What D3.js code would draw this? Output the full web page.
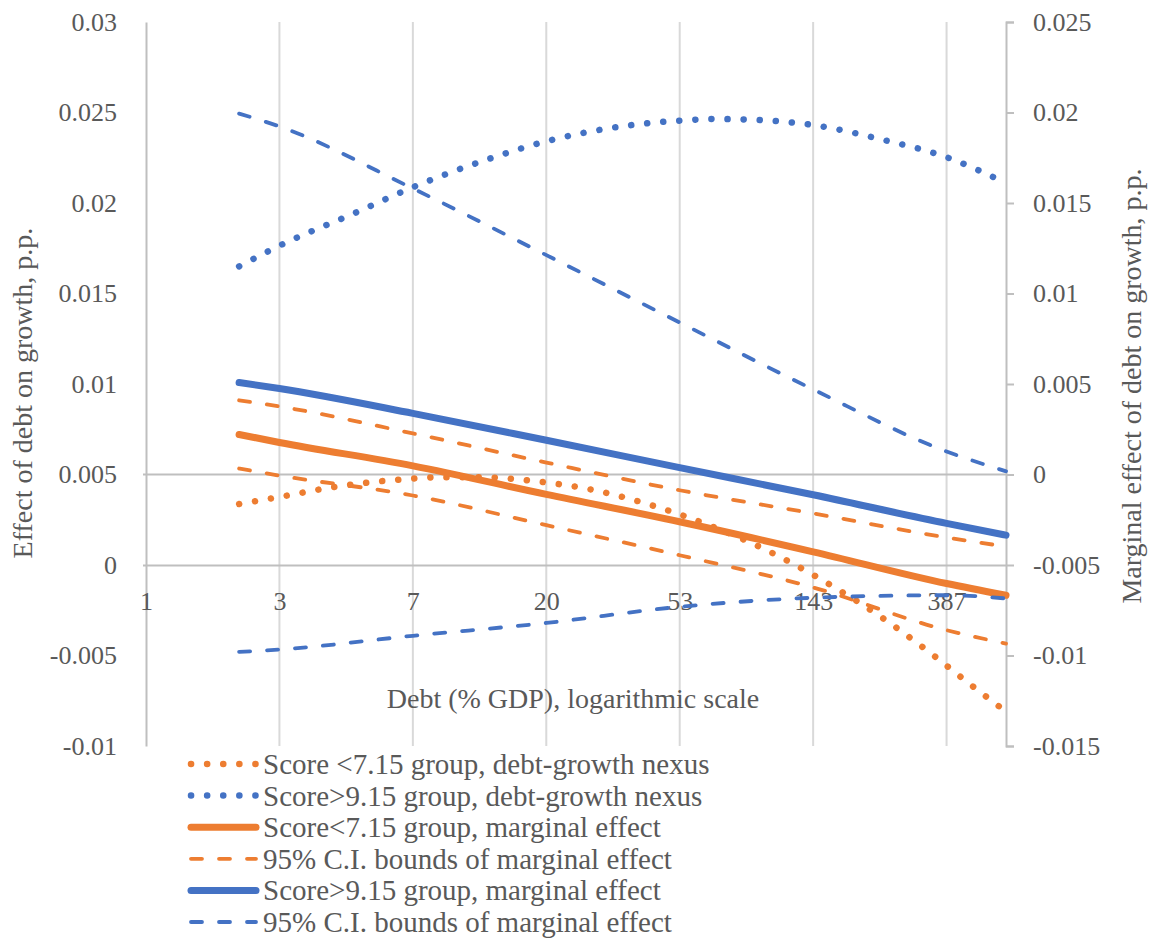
<!DOCTYPE html>
<html>
<head>
<meta charset="utf-8">
<script src="https://cdn.jsdelivr.net/npm/d3@7"></script>
<style>
  body { margin: 0; background: #fff; }
  text { font-family: "Liberation Serif", serif; fill: #595959; }
</style>
</head>
<body>
<div id="chart"></div>
<script>
// log axis ticks, base 2.7
const xTicks = [1, 2.7, 7.29, 19.683, 53.14, 143.49, 387.42];
const xTickLabels = ["1", "3", "7", "20", "53", "143", "387"];
const leftTicks = [-0.01, -0.005, 0, 0.005, 0.01, 0.015, 0.02, 0.025, 0.03];
const rightTicks = [-0.015, -0.01, -0.005, 0, 0.005, 0.01, 0.015, 0.02, 0.025];

// debt-growth nexus curves (left axis)
const debtLowNexus = [2, 2.7, 4, 6.5, 9.1, 11.7, 18.8, 26.9, 42.6, 66.7, 104, 142, 173, 236, 347, 460, 603];
const lowNexus = [0.00337, 0.00376, 0.00429, 0.00471, 0.00485, 0.00485, 0.0046, 0.0042, 0.00333, 0.00217, 0.00073, -0.0005, -0.00136, -0.00283, -0.00492, -0.00657, -0.0081];
const debtHighNexus = [2, 2.7, 4.74, 7.29, 12.8, 19.7, 35.8, 53.1, 69.5, 94.3, 143, 240, 387, 603];
const highNexus = [0.0165, 0.01764, 0.01945, 0.02087, 0.02243, 0.02341, 0.02427, 0.02455, 0.02464, 0.02459, 0.02431, 0.0235, 0.02253, 0.0211];

// marginal effects and CI bounds (right axis)
const debtME = [2, 2.7, 7.29, 19.7, 53.1, 143.5, 387.4, 603];
const lowME = [0.00221, 0.00177, 0.00048, -0.0011, -0.00261, -0.00427, -0.00602, -0.00667];
const lowUpper = [0.0041, 0.00376, 0.00227, 0.00066, -0.00087, -0.00215, -0.00348, -0.00398];
const lowLower = [0.00033, -0.00006, -0.00116, -0.0028, -0.00446, -0.00624, -0.0086, -0.00934];
const highME = [0.00508, 0.00475, 0.00338, 0.00189, 0.00038, -0.00112, -0.0027, -0.00335];
const highUpper = [0.01994, 0.01923, 0.0158, 0.01212, 0.0084, 0.0047, 0.00127, 0.00018];
const highLower = [-0.0098, -0.00967, -0.00891, -0.0082, -0.00731, -0.00681, -0.00667, -0.00685];

const legendLabels = [
  "Score <7.15 group, debt-growth nexus",
  "Score>9.15 group, debt-growth nexus",
  "Score<7.15 group, marginal effect",
  "95% C.I. bounds of marginal effect",
  "Score>9.15 group, marginal effect",
  "95% C.I. bounds of marginal effect"
];

const ORANGE = "#ED7D31", BLUE = "#4472C4";
const styles = {
  dot: {w: 6.5, dash: "0.1 16"},
  solid: {w: 7, dash: null},
  dash: {w: 3.8, dash: "11 17"}
};

var width = 1150, height = 938;
var svg = d3.select("#chart").append("svg")
  .attr("width", width).attr("height", height);

var x = d3.scaleLog().base(2.7).domain([1, 603]).range([146, 1006]);
var yL = d3.scaleLinear().domain([-0.01, 0.03]).range([746, 22]);
var yR = d3.scaleLinear().domain([-0.015, 0.025]).range([746, 22]);

// vertical gridlines
svg.append("g").selectAll("line")
  .data(xTicks.slice(1))
  .enter().append("line")
  .attr("x1", d => x(d)).attr("x2", d => x(d))
  .attr("y1", 22).attr("y2", 746)
  .attr("stroke", "#d9d9d9").attr("stroke-width", 2);

// left axis
var gL = svg.append("g").attr("transform", "translate(146,0)")
  .call(d3.axisLeft(yL).tickValues(leftTicks).tickSize(0).tickPadding(29).tickFormat(d => String(d)));
gL.select(".domain").attr("stroke", "#bfbfbf").attr("stroke-width", 2);

// right axis
var gR = svg.append("g").attr("transform", "translate(1006,0)")
  .call(d3.axisRight(yR).tickValues(rightTicks).tickSize(8).tickPadding(19).tickFormat(d => String(d)));
gR.select(".domain").attr("stroke", "#bfbfbf").attr("stroke-width", 2);
gR.selectAll(".tick line").attr("stroke", "#bfbfbf").attr("stroke-width", 2);

svg.selectAll(".tick text").attr("font-size", 26).attr("fill", "#595959")
  .attr("font-family", "Liberation Serif, serif");

// horizontal axis lines: primary zero and secondary zero
svg.append("line").attr("x1", 143).attr("x2", 1006)
  .attr("y1", yR(0)).attr("y2", yR(0))
  .attr("stroke", "#bfbfbf").attr("stroke-width", 2);

var gX = svg.append("g").attr("transform", "translate(0," + yL(0) + ")")
  .call(d3.axisBottom(x).tickValues(xTicks).tickSize(0).tickPadding(27)
    .tickFormat((d, i) => xTickLabels[i]));
gX.select(".domain").attr("stroke", "#bfbfbf").attr("stroke-width", 2)
  .attr("d", "M143,0.5H1006");
gX.selectAll(".tick text").attr("font-size", 26).attr("fill", "#595959")
  .attr("font-family", "Liberation Serif, serif");

// axis titles
svg.append("text")
  .attr("transform", "translate(22,393) rotate(-90)")
  .attr("text-anchor", "middle").attr("dominant-baseline", "central")
  .attr("font-size", 28).text("Effect of debt on growth, p.p.");
svg.append("text")
  .attr("transform", "translate(1131,386) rotate(-90)")
  .attr("text-anchor", "middle").attr("dominant-baseline", "central")
  .attr("font-size", 28).text("Marginal effect of debt on growth, p.p.");
svg.append("text")
  .attr("x", 573).attr("y", 698)
  .attr("text-anchor", "middle").attr("dominant-baseline", "central")
  .attr("font-size", 28).text("Debt (% GDP), logarithmic scale");

// series
var series = [
  {xs: debtLowNexus, ys: lowNexus, y: yL, color: ORANGE, st: "dot"},
  {xs: debtHighNexus, ys: highNexus, y: yL, color: BLUE, st: "dot"},
  {xs: debtME, ys: lowME, y: yR, color: ORANGE, st: "solid"},
  {xs: debtME, ys: lowUpper, y: yR, color: ORANGE, st: "dash"},
  {xs: debtME, ys: lowLower, y: yR, color: ORANGE, st: "dash"},
  {xs: debtME, ys: highME, y: yR, color: BLUE, st: "solid"},
  {xs: debtME, ys: highUpper, y: yR, color: BLUE, st: "dash"},
  {xs: debtME, ys: highLower, y: yR, color: BLUE, st: "dash"}
];

series.forEach(function(s) {
  var line = d3.line()
    .x(d => x(d[0]))
    .y(d => s.y(d[1]))
    .curve(d3.curveMonotoneX);
  svg.append("path")
    .datum(s.xs.map((v, i) => [v, s.ys[i]]))
    .attr("d", line)
    .attr("fill", "none")
    .attr("stroke", s.color)
    .attr("stroke-width", styles[s.st].w)
    .attr("stroke-linecap", "round")
    .attr("stroke-dasharray", styles[s.st].dash);
});

// legend
var legendItems = [
  {color: ORANGE, st: "dot"},
  {color: BLUE, st: "dot"},
  {color: ORANGE, st: "solid"},
  {color: ORANGE, st: "dash"},
  {color: BLUE, st: "solid"},
  {color: BLUE, st: "dash"}
];
var leg = svg.append("g").selectAll("g")
  .data(legendItems)
  .enter().append("g")
  .attr("transform", (d, i) => "translate(0," + (764 + i * 31.6) + ")");
leg.append("line")
  .attr("x1", 191).attr("x2", 256)
  .attr("stroke", d => d.color)
  .attr("stroke-width", d => styles[d.st].w)
  .attr("stroke-linecap", "round")
  .attr("stroke-dasharray", d => styles[d.st].dash);
leg.append("text")
  .attr("x", 263).attr("dominant-baseline", "central")
  .attr("font-size", 29)
  .text((d, i) => legendLabels[i]);
</script>
</body>
</html>
